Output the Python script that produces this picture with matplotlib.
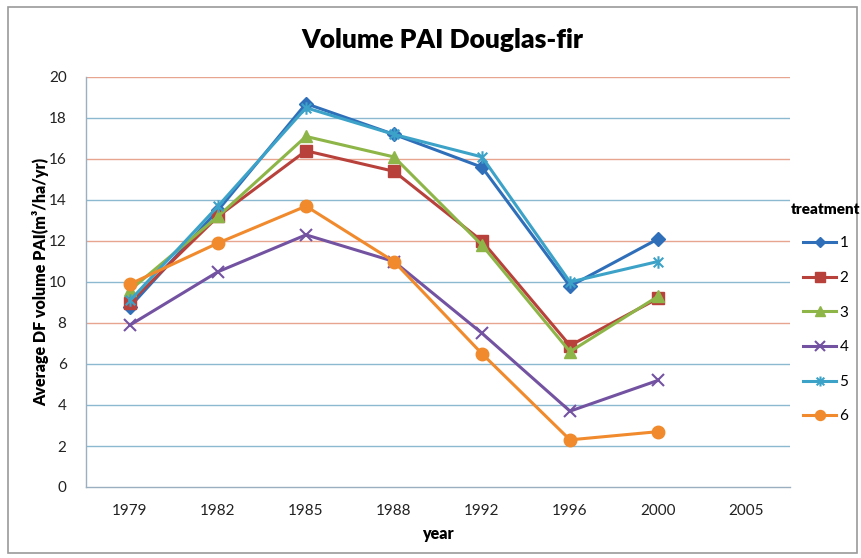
import matplotlib
matplotlib.use("Agg")
import matplotlib.pyplot as plt
from matplotlib.path import Path
from matplotlib.patches import Rectangle

plt.rcParams['font.family'] = ['Lato', 'DejaVu Sans']

years = ["1979", "1982", "1985", "1988", "1992", "1996", "2000", "2005"]
treatments = ["1", "2", "3", "4", "5", "6"]

t1 = [8.8, 13.5, 18.7, 17.2, 15.6, 9.8, 12.1]
t2 = [9.0, 13.2, 16.4, 15.4, 12.0, 6.9, 9.2]
t3 = [9.6, 13.2, 17.1, 16.1, 11.8, 6.6, 9.3]
t4 = [7.9, 10.5, 12.3, 11.0, 7.5, 3.7, 5.2]
t5 = [9.1, 13.7, 18.5, 17.2, 16.1, 10.0, 11.0]
t6 = [9.9, 11.9, 13.7, 11.0, 6.5, 2.3, 2.7]

# excel style "star" marker: an x with a vertical bar
star = Path([(-1, -1), (1, 1), (-1, 1), (1, -1), (0, -1.3), (0, 1.3)],
            [Path.MOVETO, Path.LINETO, Path.MOVETO, Path.LINETO, Path.MOVETO, Path.LINETO])

styles = [
    ("#2F6FBA", "D", 7),
    ("#B8413C", "s", 8.5),
    ("#8DB547", "^", 9),
    ("#7353A1", "x", 9),
    ("#3CA2C8", star, 9),
    ("#F08A2C", "o", 9),
]

fig = plt.figure(figsize=(8.61, 5.58), dpi=100)
ax = fig.add_axes([86 / 861, 1 - 487 / 558, (790 - 86) / 861, (487 - 77) / 558])

# alternating gridline tints like the source
for v in range(2, 21, 2):
    col = "#E7A58F" if v % 4 == 0 and v >= 8 else "#8DB9D0"
    ax.axhline(v, color=col, lw=1.0, zorder=0)

x = list(range(len(years)))
series = [t1, t2, t3, t4, t5, t6]
for name, vals, (col, mk, ms) in zip(treatments, series, styles):
    mew = 1.5 if mk in ("x",) or mk is star else 1
    ax.plot(x[:len(vals)], vals, color=col, lw=2.2, marker=mk, markersize=ms,
            markeredgewidth=mew, markerfacecolor=col, markeredgecolor=col, label=name,
            zorder=3)

ax.set_xlim(-0.5, len(years) - 0.5)
ax.set_ylim(0, 20)
ax.set_yticks(range(0, 21, 2))
ax.set_xticks(x)
ax.set_xticklabels(years)
ax.tick_params(axis="both", length=0, labelsize=11, colors="#222222")
ax.tick_params(axis="x", pad=12)
ax.tick_params(axis="y", pad=14)

for s in ["top", "right"]:
    ax.spines[s].set_visible(False)
for s in ["left", "bottom"]:
    ax.spines[s].set_color("#9AAFBF")
    ax.spines[s].set_linewidth(1.0)

ax.set_xlabel("year", fontsize=11.5, fontweight="heavy")
ax.xaxis.set_label_coords(0.5, -(526 - 487) / 410)
ax.set_ylabel("Average DF volume PAI(m³/ha/yr)", fontsize=11.5, fontweight="heavy")
ax.yaxis.set_label_coords(-(86 - 49) / 704, 0.5)
fig.text(442 / 861, 1 - 40 / 558, "Volume PAI Douglas-fir", fontsize=19, fontweight="heavy",
         ha="center", va="center")

leg = fig.legend(loc="upper left", bbox_to_anchor=(777 / 861, 1 - 189 / 558), frameon=False,
                 title="treatment", fontsize=11, handlelength=2.2, handletextpad=0.2,
                 labelspacing=1.35, alignment="center", markerscale=0.8)
leg.get_title().set_fontweight("heavy")
leg.get_title().set_fontsize(11)

fig.patches.append(Rectangle((8 / 861, 5 / 558), 849 / 861, 546 / 558, transform=fig.transFigure,
                             fill=False, edgecolor="#9A9A9A", lw=1.2))

fig.savefig("out.png", dpi=100)
